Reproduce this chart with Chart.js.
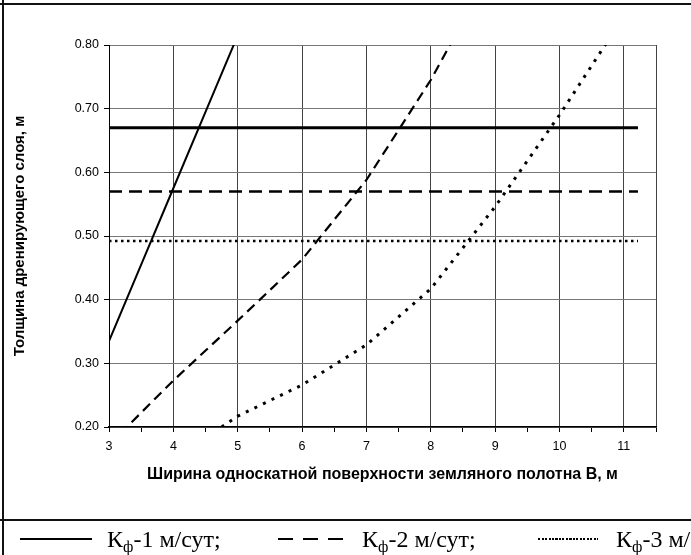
<!DOCTYPE html>
<html>
<head>
<meta charset="utf-8">
<script src="https://cdn.jsdelivr.net/npm/chart.js@4.4.1/dist/chart.umd.min.js"></script>
<style>
  html, body { margin: 0; padding: 0; background: #fff; }
  body { width: 691px; height: 555px; position: relative; overflow: hidden; }
  #wrap { position: absolute; left: 0; top: 0; width: 691px; height: 520px; }
  .frame { position: absolute; background: #111; }
  #legend { position: absolute; left: 0; top: 0; width: 691px; height: 555px; pointer-events: none;
            font-family: "Liberation Serif", "Times New Roman", serif; font-size: 24px; color: #000; }
  .lt { position: absolute; top: 527px; line-height: 24px; white-space: nowrap; }
  .lt sub { font-size: 16px; vertical-align: -5px; line-height: 0; }
  .ls { position: absolute; height: 2px; top: 538px; }
</style>
</head>
<body>
<div id="wrap"><canvas id="c" width="691" height="520"></canvas></div>
<div class="frame" style="left:0;top:3px;width:691px;height:2px;"></div>
<div class="frame" style="left:2px;top:0;width:2px;height:555px;"></div>
<div class="frame" style="left:0;top:519px;width:691px;height:2px;"></div>
<div id="legend">
  <div class="ls" style="left:20px;width:72px;background:#000;"></div>
  <div class="lt" style="left:107px;">К<sub>ф</sub>-1 м/сут;</div>
  <div class="ls" style="left:278px;width:65px;background:repeating-linear-gradient(to right,#000 0 15px,transparent 15px 25px);"></div>
  <div class="lt" style="left:362px;">К<sub>ф</sub>-2 м/сут;</div>
  <div class="ls" style="left:538px;width:60px;background:repeating-linear-gradient(to right,#000 0 2px,transparent 2px 3.5px);"></div>
  <div class="lt" style="left:616px;">К<sub>ф</sub>-3 м/сут;</div>
</div>
<script>
// ---- data ----
const xTitle = "Ширина односкатной поверхности земляного полотна В, м";
const yTitle = "Толщина дренирующего слоя, м";

// Kf = 1 m/day curve
const k1X = [3, 3.5, 4, 4.5, 5];
const k1Y = [0.335, 0.455, 0.575, 0.695, 0.815];
// Kf = 2 m/day curve
const k2X = [3, 4, 5, 6, 7, 8, 9];
const k2Y = [0.172, 0.273, 0.367, 0.463, 0.588, 0.745, 0.93];
// Kf = 3 m/day curve
const k3X = [4.75, 5, 6, 7, 8, 9, 10, 11];
const k3Y = [0.20, 0.217, 0.266, 0.329, 0.417, 0.546, 0.69, 0.845];

// horizontal reference thicknesses
const refX = [3, 11.22];
const ref1Y = [0.67, 0.67];
const ref2Y = [0.57, 0.57];
const ref3Y = [0.492, 0.492];

const xMin = 3, xMax = 11.5, xStep = 0.5;
const yMin = 0.2, yMax = 0.8, yStep = 0.1;

const pts = (xs, ys) => xs.map((x, i) => ({x: x, y: ys[i]}));

const base = {pointRadius: 0, tension: 0, fill: false, borderColor: '#000', borderCapStyle: 'butt'};
const datasets = [
  Object.assign({}, base, {label: 'k1', data: pts(k1X, k1Y), borderWidth: 2}),
  Object.assign({}, base, {label: 'k2', data: pts(k2X, k2Y), borderWidth: 2.2, borderDash: [10, 6]}),
  Object.assign({}, base, {label: 'k3', data: pts(k3X, k3Y), borderWidth: 3, borderDash: [3, 6.5]}),
  Object.assign({}, base, {label: 'r1', data: pts(refX, ref1Y), borderWidth: 3}),
  Object.assign({}, base, {label: 'r2', data: pts(refX, ref2Y), borderWidth: 2.6, borderDash: [13, 7]}),
  Object.assign({}, base, {label: 'r3', data: pts(refX, ref3Y), borderWidth: 2.5, borderDash: [2.5, 3.5]})
];

const tickFont = {family: "'Liberation Sans', Arial, sans-serif", size: 12.5};
const xTitleFont = {family: "'Liberation Sans', Arial, sans-serif", size: 16, weight: 'bold'};
const yTitleFont = {family: "'Liberation Sans', Arial, sans-serif", size: 15, weight: 'bold'};

new Chart(document.getElementById('c'), {
  type: 'line',
  data: {datasets: datasets},
  options: {
    responsive: false,
    animation: false,
    events: [],
    layout: {padding: {left: 0, right: 35, top: 45, bottom: 0}},
    plugins: {legend: {display: false}, tooltip: {enabled: false}},
    scales: {
      x: {
        type: 'linear', min: xMin, max: xMax,
        afterFit: s => { s.height = 93; },
        ticks: {
          stepSize: xStep, autoSkip: false, maxRotation: 0, padding: 7,
          color: '#000', font: tickFont,
          callback: v => Number.isInteger(v) && v < xMax ? String(v) : ''
        },
        grid: {
          color: c => (Number.isInteger(c.tick.value) || c.tick.value === xMax) ? '#444' : 'rgba(0,0,0,0)',
          borderDash: [12, 3, 2, 3], lineWidth: 1,
          tickLength: 5, tickColor: '#000', tickWidth: 1
        },
        border: {display: true, color: '#000', width: 1.5},
        title: {display: true, text: xTitle, color: '#000', font: xTitleFont, padding: {top: 0, bottom: 36}}
      },
      y: {
        type: 'linear', min: yMin, max: yMax,
        afterFit: s => { s.width = 109; },
        ticks: {
          stepSize: yStep, padding: 5, color: '#000', font: tickFont,
          callback: v => Number(v).toFixed(2)
        },
        grid: {
          color: '#777', borderDash: [20, 3, 3, 3], lineWidth: 1,
          tickLength: 5, tickColor: '#000', tickWidth: 1
        },
        border: {display: true, color: '#000', width: 1},
        title: {display: true, text: yTitle, color: '#000', font: yTitleFont, padding: {top: 11, bottom: 0}}
      }
    }
  }
});
</script>
</body>
</html>
